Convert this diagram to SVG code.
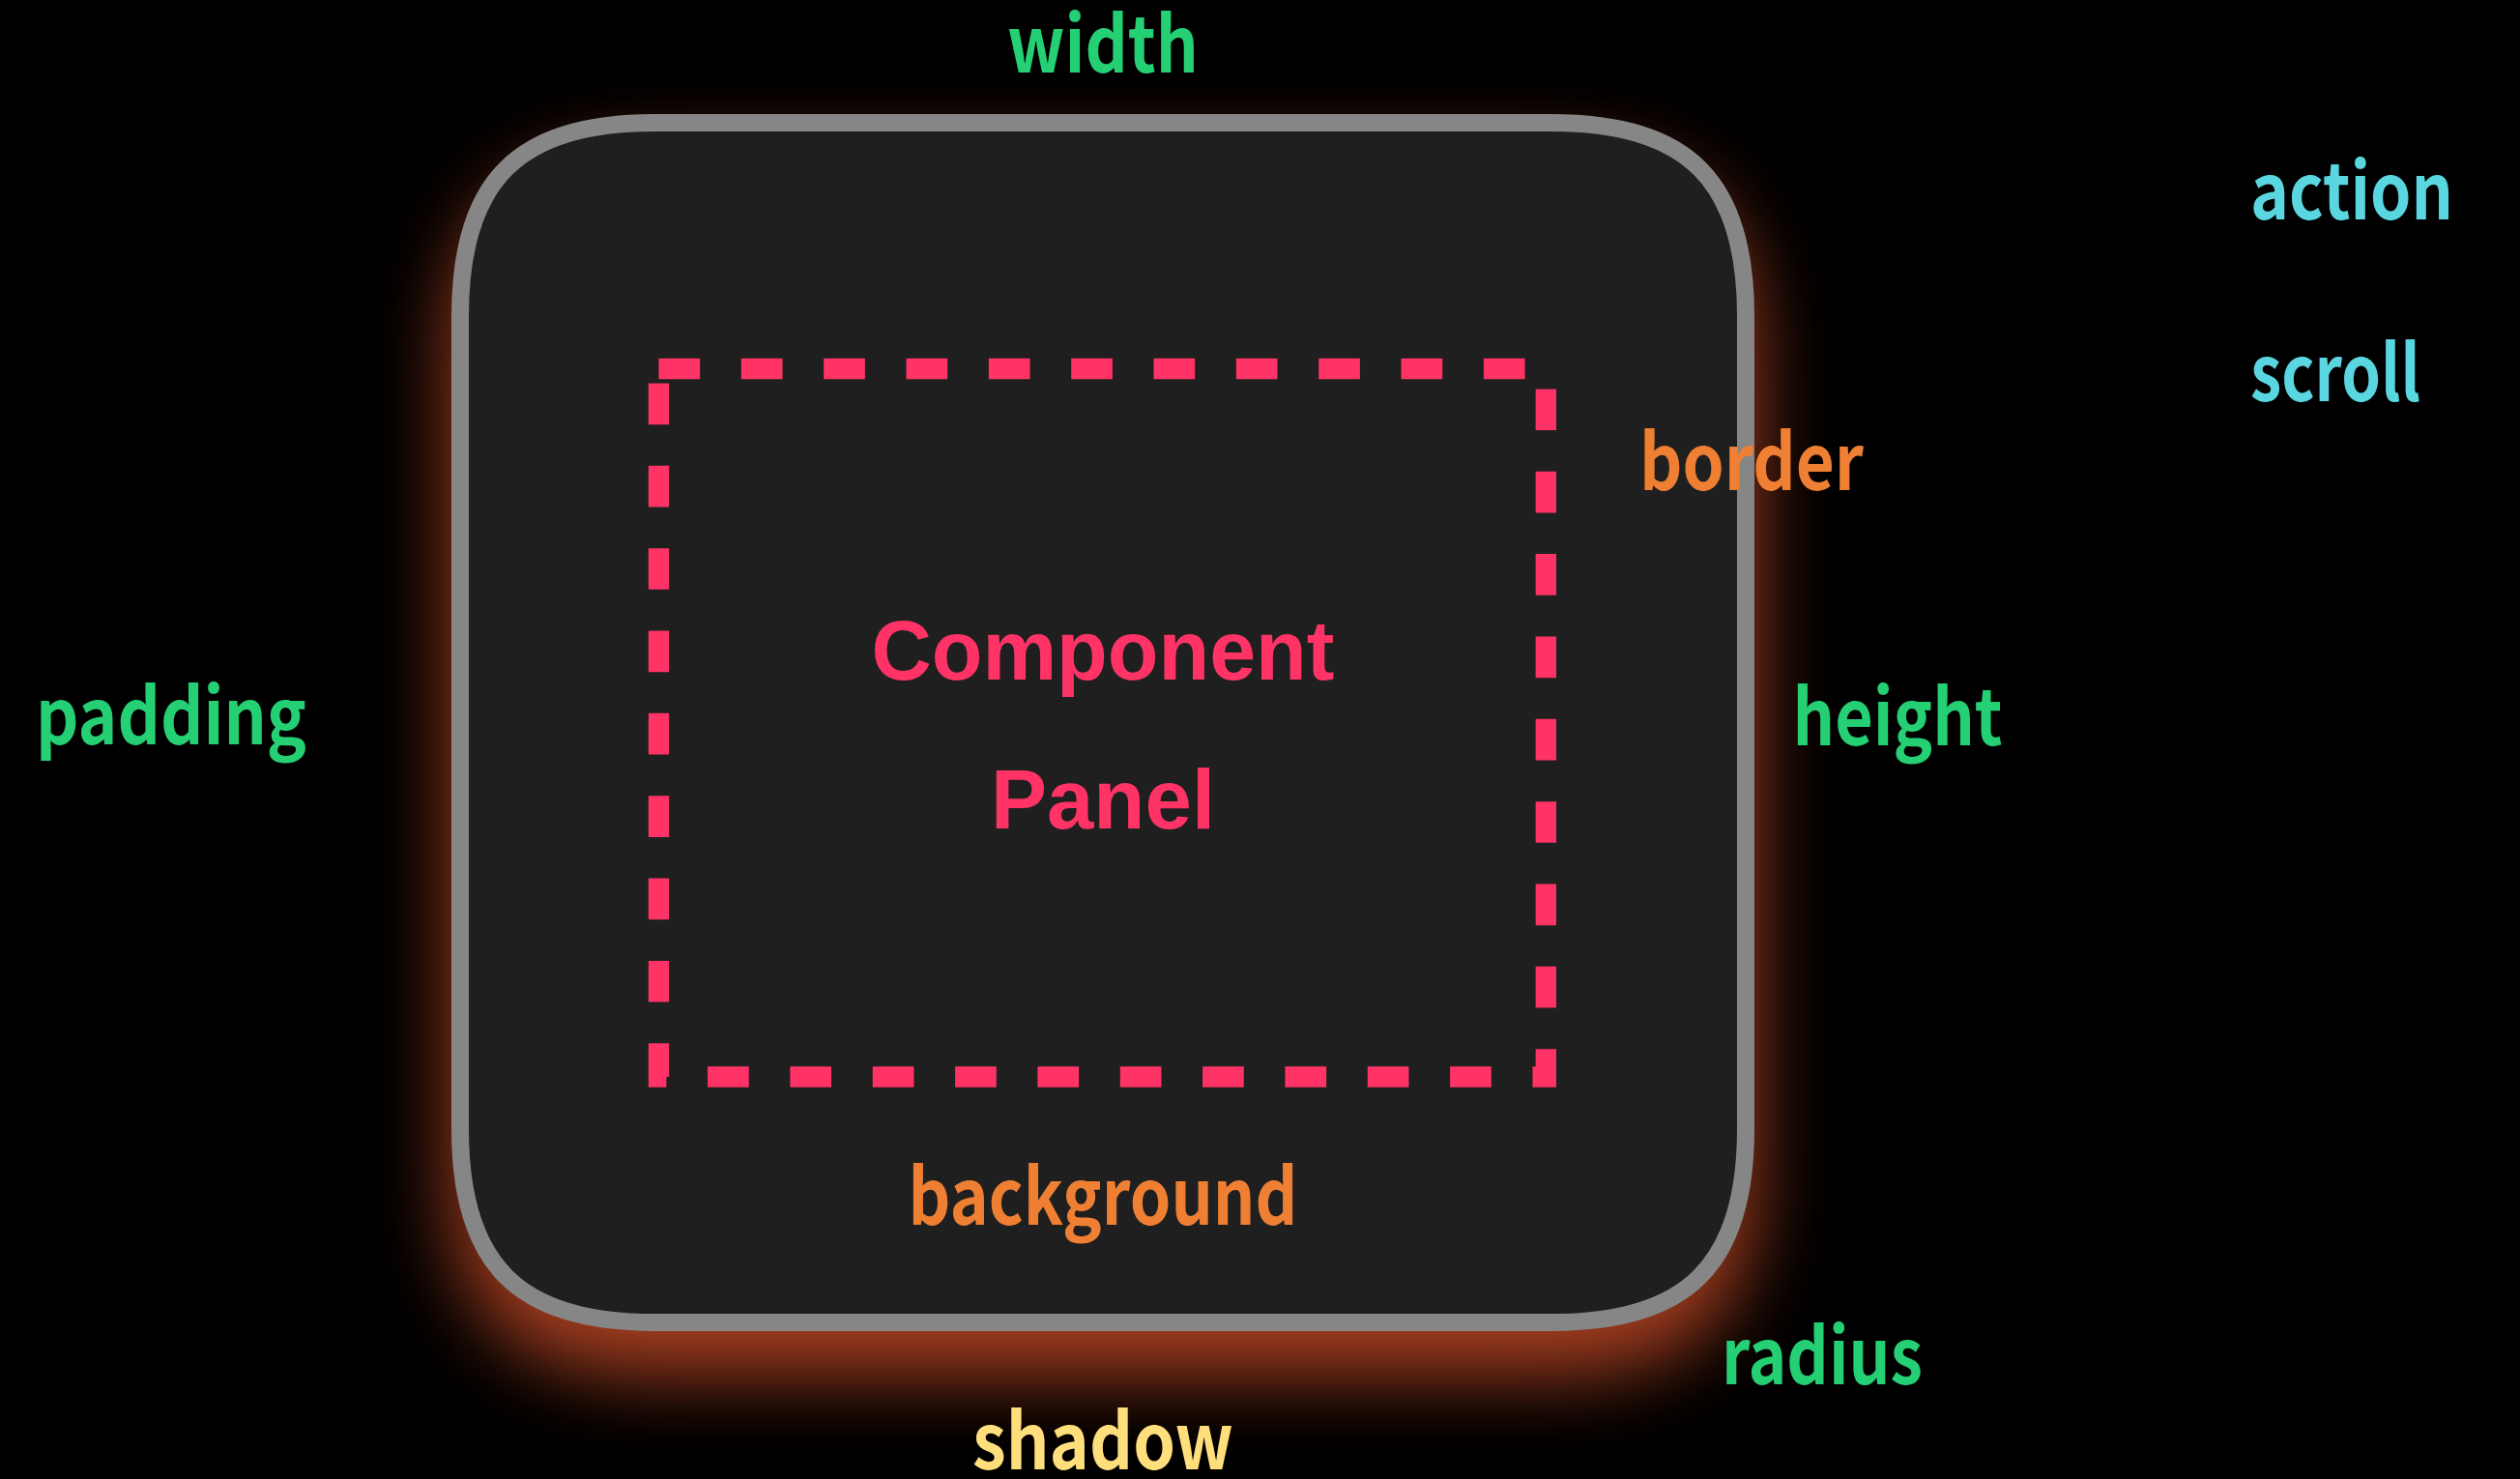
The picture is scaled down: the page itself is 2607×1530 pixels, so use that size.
<svg xmlns="http://www.w3.org/2000/svg" width="2607" height="1530" viewBox="0 0 2607 1530">
  <defs>
    <style>
      .lbl { font-family: "Noto Sans CJK KR", "Noto Sans", sans-serif; font-weight: 700; font-size: 80px; }
      .mid { text-anchor: middle; }
      .green { fill: #25cf74; }
      .orange { fill: #ee7f33; }
      .cyan { fill: #5ad6e0; }
      .yellow { fill: #ffdf7c; }
      .title { font-family: "Liberation Sans", Arial, sans-serif; font-weight: 700; font-size: 87px; fill: #ff3366; text-anchor: middle; }
    </style>
    <filter id="glow" x="-20%" y="-20%" width="140%" height="140%">
      <feGaussianBlur stdDeviation="40"/>
    </filter>
    <path id="panelShape" d="M 676,127 H 1606 C 1746,127 1806,187 1806,327 V 1168 C 1806,1308 1746,1368 1606,1368 H 676 C 536,1368 476,1308 476,1168 V 327 C 476,187 536,127 676,127 Z"/>
  </defs>
  <rect x="0" y="0" width="2607" height="1530" fill="#000000"/>

  <g id="panel">
    <use href="#panelShape" transform="translate(0,45)" fill="#ff6030" stroke="#ff6030" stroke-width="18" opacity="0.66" filter="url(#glow)"/>
    <use href="#panelShape" fill="#1f1f1f" stroke="#868686" stroke-width="18"/>
  </g>

  <g id="content-area">
    <rect x="681.5" y="381.5" width="917.8" height="732.5" fill="none" stroke="#ff3366" stroke-width="21.3" stroke-dasharray="42.67 42.67" stroke-linejoin="miter"/>
    <text class="title" x="1141" y="703" textLength="479" lengthAdjust="spacingAndGlyphs">Component</text>
    <text class="title" x="1141" y="857">Panel</text>
  </g>

  <g id="connectors"></g>

  <g id="label-width"><text class="lbl mid green" x="1141" y="75" textLength="198" lengthAdjust="spacingAndGlyphs">width</text></g>
  <g id="label-action"><text class="lbl cyan" x="2328" y="227" textLength="210" lengthAdjust="spacingAndGlyphs">action</text></g>
  <g id="label-scroll"><text class="lbl cyan" x="2328" y="415" textLength="176" lengthAdjust="spacingAndGlyphs">scroll</text></g>
  <g id="label-border"><text class="lbl mid orange" x="1812" y="507" textLength="232" lengthAdjust="spacingAndGlyphs">border</text></g>
  <g id="label-padding"><text class="lbl mid green" x="177" y="770" textLength="280" lengthAdjust="spacingAndGlyphs">padding</text></g>
  <g id="label-height"><text class="lbl mid green" x="1963" y="771" textLength="217" lengthAdjust="spacingAndGlyphs">height</text></g>
  <g id="label-background"><text class="lbl mid orange" x="1141" y="1267" textLength="403" lengthAdjust="spacingAndGlyphs">background</text></g>
  <g id="label-radius"><text class="lbl mid green" x="1885" y="1432" textLength="208" lengthAdjust="spacingAndGlyphs">radius</text></g>
  <g id="label-shadow"><text class="lbl mid yellow" x="1141" y="1520" textLength="270" lengthAdjust="spacingAndGlyphs">shadow</text></g>
</svg>
